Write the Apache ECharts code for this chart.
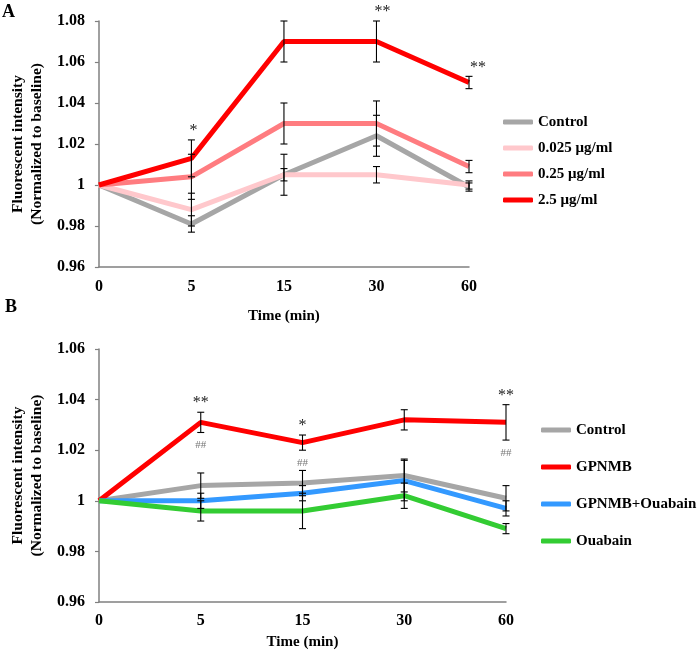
<!DOCTYPE html>
<html><head><meta charset="utf-8">
<script src="https://cdn.jsdelivr.net/npm/echarts@6/dist/echarts.min.js"></script>
<style>html,body{margin:0;padding:0;background:#fff}#c{width:700px;height:653px}</style>
</head><body><div id="c"></div>
<script>
// ---- data ----
const times = ['0', '5', '15', '30', '60'];

// Panel A
const namesA = ['Control', '0.025 μg/ml', '0.25 μg/ml', '2.5 μg/ml'];
const controlA = [1, 0.981, 1.005, 1.024, 0.999];
const controlAErr = [0, 0.004, 0.010, 0.010, 0.002];
const lowA = [1, 0.988, 1.005, 1.005, 1.000];
const lowAErr = [0, 0.008, 0.003, 0.004, 0.002];
const midA = [1, 1.004, 1.030, 1.030, 1.009];
const midAErr = [0, 0.011, 0.010, 0.011, 0.003];
const highA = [1, 1.013, 1.070, 1.070, 1.050];
const highAErr = [0, 0.009, 0.010, 0.010, 0.003];
const sigA = ['', '*', '', '**', '**'];

// Panel B
const namesB = ['Control', 'GPNMB', 'GPNMB+Ouabain', 'Ouabain'];
const controlB = [1, 1.006, 1.007, 1.010, 1.001];
const controlBErr = [0, 0.005, 0.005, 0.0065, 0.005];
const gpnmbB = [1, 1.031, 1.023, 1.032, 1.031];
const gpnmbBErr = [0, 0.004, 0.003, 0.004, 0.007];
const gpOuaB = [1, 1.000, 1.003, 1.008, 0.997];
const gpOuaBErr = [0, 0.003, 0.003, 0.008, 0.003];
const ouaB = [1, 0.996, 0.996, 1.002, 0.989];
const ouaBErr = [0, 0.004, 0.007, 0.005, 0.002];
const sigB = ['', '**', '*', '', '**'];
const hashB = ['', '##', '##', '', '##'];

// ---- styles ----
const FONT = '"Liberation Serif", "Times New Roman", serif';
const colorsA = ['#a6a6a6', '#ffc8cc', '#ff7c80', '#ff0000'];
const colorsB = ['#a6a6a6', '#ff0000', '#3399ff', '#33cc33'];
const axisColor = '#808080';

const chart = echarts.init(document.getElementById('c'), null, {renderer: 'canvas'});

function fmt(v) { return String(parseFloat(v.toFixed(2))); }

function errRender(params, api) {
  const i = api.value(0), m = api.value(1), e = api.value(2);
  if (!e) return null;
  const t = api.coord([i, m + e]), b = api.coord([i, m - e]);
  const cw = 3.5;
  const st = {stroke: '#000', lineWidth: 1.1};
  return {type: 'group', children: [
    {type: 'line', shape: {x1: t[0], y1: t[1], x2: b[0], y2: b[1]}, style: st},
    {type: 'line', shape: {x1: t[0] - cw, y1: t[1], x2: t[0] + cw, y2: t[1]}, style: st},
    {type: 'line', shape: {x1: b[0] - cw, y1: b[1], x2: b[0] + cw, y2: b[1]}, style: st}
  ]};
}

function annotRender(sig, hash, dxMap) {
  return function (params, api) {
    const i = api.value(0), m = api.value(1), e = api.value(2);
    const t = api.coord([i, m + e]), b = api.coord([i, m - e]);
    const ch = [];
    const dx = dxMap ? dxMap[i] : 0;
    if (sig[i]) ch.push({type: 'text', x: t[0] + dx, y: t[1] - 1, style: {
      text: sig[i], font: '16px ' + FONT, fill: '#222', align: 'center', verticalAlign: 'bottom'}});
    if (hash && hash[i]) ch.push({type: 'text', x: b[0], y: b[1] + 13, style: {
      text: hash[i], font: '11px ' + FONT, fill: '#777', align: 'center', verticalAlign: 'middle'}});
    return {type: 'group', children: ch};
  };
}

function toErr(vals, errs) { return vals.map((v, i) => [i, v, errs[i]]); }

const valsA = [controlA, lowA, midA, highA], errsA = [controlAErr, lowAErr, midAErr, highAErr];
const valsB = [controlB, gpnmbB, gpOuaB, ouaB], errsB = [controlBErr, gpnmbBErr, gpOuaBErr, ouaBErr];

function xAxis(gi, margin, gap) {
  return {type: 'category', gridIndex: gi, data: times, boundaryGap: false,
    axisLine: {lineStyle: {color: axisColor, width: 1.5}}, axisTick: {show: false},
    axisLabel: {margin: margin, color: '#000', fontFamily: FONT, fontWeight: 'bold', fontSize: 16},
    name: 'Time (min)', nameLocation: 'middle', nameGap: gap,
    nameTextStyle: {color: '#000', fontFamily: FONT, fontWeight: 'bold', fontSize: 15}};
}
function yAxis(gi, max, gap) {
  return {type: 'value', gridIndex: gi, min: 0.96, max: max, interval: 0.02,
    splitLine: {show: false},
    axisLine: {show: true, lineStyle: {color: axisColor, width: 1.5}},
    axisTick: {show: true, length: 4, lineStyle: {color: axisColor, width: 1.2}},
    axisLabel: {margin: 14, formatter: fmt, color: '#000', fontFamily: FONT, fontWeight: 'bold', fontSize: 16},
    name: 'Fluorescent intensity\n(Normalized to baseline)', nameLocation: 'middle', nameGap: gap,
    nameTextStyle: {color: '#000', fontFamily: FONT, fontWeight: 'bold', fontSize: 15.5, lineHeight: 19}};
}

const series = [];
namesA.forEach((n, k) => series.push({name: n, type: 'line', xAxisIndex: 0, yAxisIndex: 0,
  data: valsA[k], symbol: 'none', lineStyle: {width: 5, color: colorsA[k]}, itemStyle: {color: colorsA[k]}, z: 2}));
namesA.forEach((n, k) => series.push({type: 'custom', xAxisIndex: 0, yAxisIndex: 0,
  data: toErr(valsA[k], errsA[k]), renderItem: errRender, encode: {x: 0, y: 1}, z: 3, silent: true}));
series.push({type: 'custom', xAxisIndex: 0, yAxisIndex: 0, data: toErr(highA, highAErr),
  renderItem: annotRender(sigA, null, [0, 2, 0, 6, 9]), encode: {x: 0, y: 1}, z: 4, silent: true});

namesB.forEach((n, k) => series.push({name: n, type: 'line', xAxisIndex: 1, yAxisIndex: 1,
  data: valsB[k], symbol: 'none', lineStyle: {width: 5, color: colorsB[k]}, itemStyle: {color: colorsB[k]}, z: 2}));
namesB.forEach((n, k) => series.push({type: 'custom', xAxisIndex: 1, yAxisIndex: 1,
  data: toErr(valsB[k], errsB[k]), renderItem: errRender, encode: {x: 0, y: 1}, z: 3, silent: true}));
series.push({type: 'custom', xAxisIndex: 1, yAxisIndex: 1, data: toErr(gpnmbB, gpnmbBErr),
  renderItem: annotRender(sigB, hashB, null), encode: {x: 0, y: 1}, z: 4, silent: true});

const legendText = {color: '#000', fontFamily: FONT, fontWeight: 'bold', fontSize: 15, lineHeight: 16};

chart.setOption({
  animation: false,
  backgroundColor: '#fff',
  grid: [
    {left: 97, top: 21, width: 372, height: 246, containLabel: false},
    {left: 99, top: 349, width: 407, height: 253, containLabel: false}
  ],
  xAxis: [xAxis(0, 12, 42), xAxis(1, 11, 33)],
  yAxis: [yAxis(0, 1.08, 44), yAxis(1, 1.06, 46)],
  legend: [
    {data: namesA, orient: 'vertical', left: 498, top: 109, itemWidth: 30, itemHeight: 5, itemGap: 10,
      icon: 'roundRect', textStyle: legendText, selectedMode: false},
    {data: namesB, orient: 'vertical', left: 536, top: 417, itemWidth: 30, itemHeight: 5, itemGap: 21,
      icon: 'roundRect', textStyle: legendText, selectedMode: false}
  ],
  graphic: [
    {type: 'text', left: 2, top: 3, style: {text: 'A', font: 'bold 18px ' + FONT, fill: '#000'}},
    {type: 'text', left: 5, top: 298, style: {text: 'B', font: 'bold 18px ' + FONT, fill: '#000'}}
  ],
  series: series
});
</script></body></html>
